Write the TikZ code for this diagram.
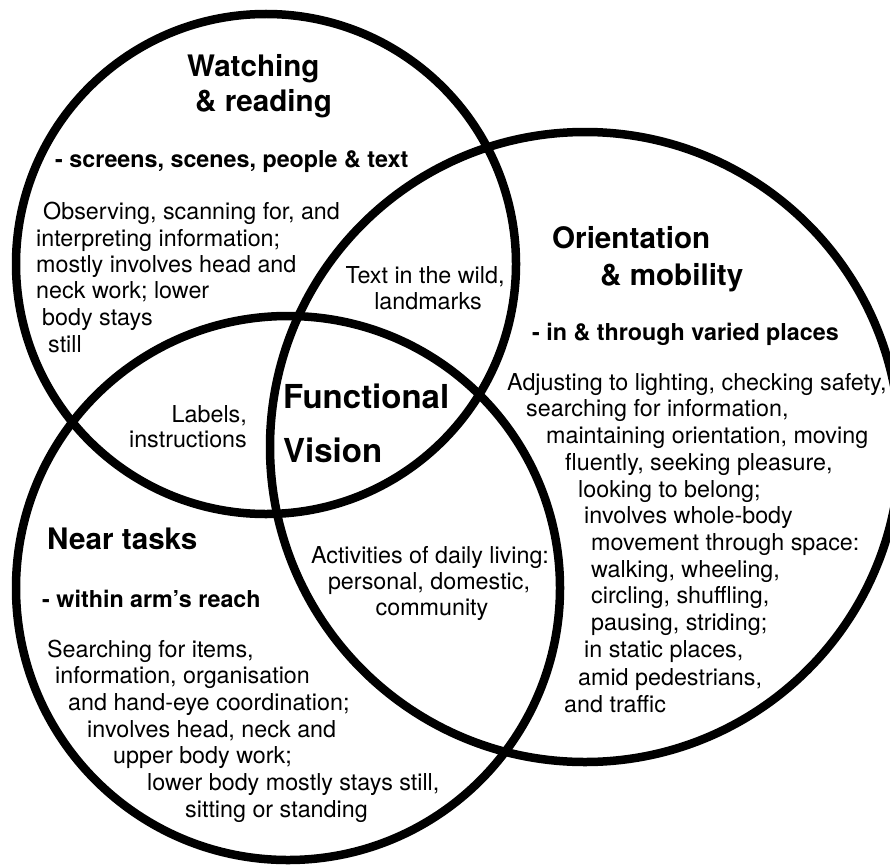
\documentclass[tikz,border=0pt]{standalone}
\usepackage{fontspec}
\setmainfont{TeX Gyre Heros}
\begin{document}
\begin{tikzpicture}[x=1pt,y=-1pt,
  ring/.style={draw=black,line width=8.5pt},
  ttl/.style={font=\bfseries\fontsize{29.6}{34}\selectfont,inner sep=0pt,anchor=base west},
  core/.style={font=\bfseries\fontsize{33}{38}\selectfont,inner sep=0pt,anchor=base west},
  sub/.style={font=\bfseries\fontsize{23.3}{27}\selectfont,inner sep=0pt,anchor=base west},
  body/.style={font=\fontsize{23.3}{27}\selectfont,inner sep=0pt,anchor=base west},
  bodyc/.style={body,anchor=base},
  bodyr/.style={body,anchor=base east}]
\useasboundingbox (0,0) rectangle (890,864);
\fill[white] (0,0) rectangle (890,864);
\begin{scope}
  \clip (0,0) rectangle (890,864);
  % the three overlapping areas of vision use
  \draw[ring] (266,264) circle [radius=250pt];
  \draw[ring] (585,447) circle [radius=315pt];
  \draw[ring] (288,588) circle [radius=272pt];
\end{scope}

% Watching & reading
\node[ttl] (wt1) at (187,77) {Watching};
\node[ttl] (wt2) at (195,111) {\& reading};
\node[sub] (ws) at (55,167) {- screens, scenes, people \& text};
\node[body] (wb1) at (43,219) {Observing, scanning for, and};
\node[body] (wb2) at (36,246) {interpreting information;};
\node[body] (wb3) at (36,272) {mostly involves head and};
\node[body] (wb4) at (36,298) {neck work; lower};
\node[body] (wb5) at (42,325) {body stays};
\node[body] (wb6) at (48,352) {still};

% Orientation & mobility
\node[ttl] (ot1) at (552,248) {Orientation};
\node[ttl] (ot2) at (600,285) {\& mobility};
\node[sub] (os) at (532,340) {- in \& through varied places};
\node[body] (ob1) at (507,390) {Adjusting to lighting, checking safety,};
\node[body] (ob2) at (526,416) {searching for information,};
\node[body] (ob3) at (546,443) {maintaining orientation, moving};
\node[body] (ob4) at (565,470) {fluently, seeking pleasure,};
\node[body] (ob5) at (578,497) {looking to belong;};
\node[body] (ob6) at (584,523) {involves whole-body};
\node[body] (ob7) at (591,550) {movement through space:};
\node[body] (ob8) at (591,577) {walking, wheeling,};
\node[body] (ob9) at (591,603) {circling, shuffling,};
\node[body] (ob10) at (591,630) {pausing, striding;};
\node[body] (ob11) at (584,657) {in static places,};
\node[body] (ob12) at (578,685) {amid pedestrians,};
\node[body] (ob13) at (564,712) {and traffic};

% Near tasks
\node[ttl] (nt) at (47,549) {Near tasks};
\node[sub] (ns) at (42,607) {- within arm’s reach};
\node[body] (nb1) at (47,657) {Searching for items,};
\node[body] (nb2) at (55,683) {information, organisation};
\node[body] (nb3) at (68,710) {and hand-eye coordination;};
\node[body] (nb4) at (87,737) {involves head, neck and};
\node[body] (nb5) at (113,763) {upper body work;};
\node[body] (nb6) at (147,790) {lower body mostly stays still,};
\node[body] (nb7) at (185,817) {sitting or standing};

% overlaps
\node[bodyc] (tw1) at (425,283) {Text in the wild,};
\node[bodyc] (tw2) at (428,309) {landmarks};
\node[bodyr] (li1) at (247,422) {Labels,};
\node[bodyr] (li2) at (247,447) {instructions};
\node[bodyc] (ad1) at (430,563) {Activities of daily living:};
\node[bodyc] (ad2) at (429,589) {personal, domestic,};
\node[bodyc] (ad3) at (432,615) {community};

% centre
\node[core] (fv1) at (283,408) {Functional};
\node[core] (fv2) at (283,462) {Vision};
\end{tikzpicture}
\end{document}
